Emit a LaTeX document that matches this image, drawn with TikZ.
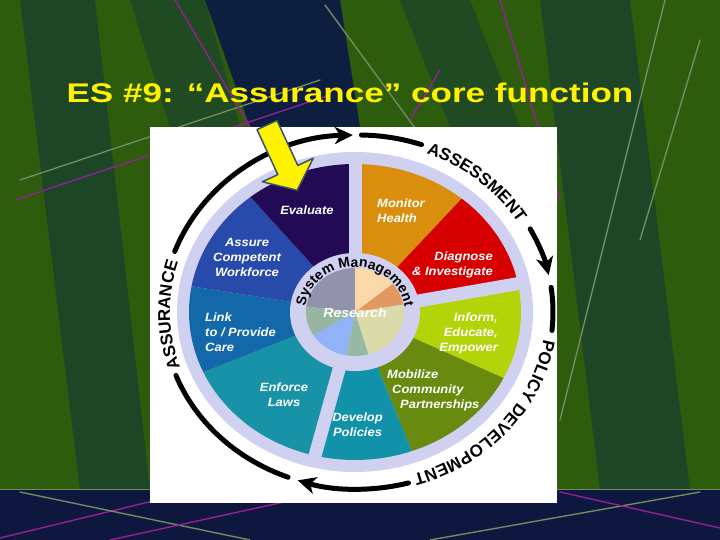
\documentclass[tikz,border=0pt]{standalone}
\usepackage{fontspec}
\setmainfont{Liberation Sans}
\newfontfamily\titlefont[FakeStretch=1.3]{Liberation Sans}
\newfontfamily\wheelfont[FakeStretch=1.08]{Liberation Sans}
\usetikzlibrary{arrows.meta,decorations.text}

\definecolor{bggreen}{RGB}{45,92,12}
\definecolor{bgteal}{RGB}{22,62,50}
\definecolor{bgnavy}{RGB}{10,24,70}
\definecolor{bgline}{RGB}{112,140,96}
\definecolor{bgpurple}{RGB}{150,30,150}
\definecolor{stripnavy}{RGB}{14,24,62}
\definecolor{lav}{RGB}{208,208,240}
\definecolor{cmon}{RGB}{218,142,14}
\definecolor{cdia}{RGB}{214,0,0}
\definecolor{cinf}{RGB}{178,212,8}
\definecolor{cmob}{RGB}{104,138,14}
\definecolor{cdev}{RGB}{18,146,168}
\definecolor{cenf}{RGB}{24,146,166}
\definecolor{clnk}{RGB}{18,104,168}
\definecolor{cass}{RGB}{40,74,170}
\definecolor{ceva}{RGB}{34,10,84}
\definecolor{pgray}{RGB}{146,146,170}
\definecolor{psage}{RGB}{150,182,162}
\definecolor{pblue}{RGB}{146,178,248}
\definecolor{pgreen}{RGB}{152,184,166}
\definecolor{pkhaki}{RGB}{218,218,170}
\definecolor{ptan}{RGB}{226,152,96}
\definecolor{ppeach}{RGB}{250,216,168}
\definecolor{arrowedge}{RGB}{60,80,110}

\newcommand{\ringfont}{\bfseries\fontsize{17}{17}\selectfont}

\begin{document}
\begin{tikzpicture}[
  x=1pt,y=1pt,
  line cap=round,
  line join=round,
  wlabel/.style={
    text=white,
    font=\wheelfont\fontsize{12}{15}\selectfont\bfseries\itshape,
    inner sep=0pt
  },
  ringline/.style={draw=black,line width=5pt},
  ringtip/.style={-{Stealth[length=18pt,width=17pt,inset=5pt]}},
  spoke/.style={draw=lav,line width=13pt,line cap=butt},
  bgstroke/.style={line width=1.4pt}
]
\useasboundingbox (0,0) rectangle (720,540);

% Slide background: green with dark slanted bands and thin lines.
\fill[bggreen] (0,0) rectangle (720,540);
\fill[bgteal,opacity=0.7] (20,540) -- (95,540) -- (150,50) -- (80,50) -- cycle;
\fill[bgteal,opacity=0.6] (130,540) -- (205,540) -- (240,413) -- (170,413) -- cycle;
\fill[bgnavy,opacity=0.9] (205,540) -- (340,540) -- (360,413) -- (250,413) -- cycle;
\fill[bgteal,opacity=0.6] (400,540) -- (470,540) -- (520,413) -- (450,413) -- cycle;
\fill[bgteal,opacity=0.7] (540,540) -- (630,540) -- (690,50) -- (600,50) -- cycle;
\draw[bgstroke,bgline]   (20,360) -- (320,460);
\draw[bgstroke,bgpurple] (15,340) -- (330,445);
\draw[bgstroke,bgpurple] (175,540) -- (250,413);
\draw[bgstroke,bgline]   (325,535) -- (415,412);
\draw[bgstroke,bgpurple] (410,420) -- (440,470);
\draw[bgstroke,bgline]   (665,540) -- (560,120);
\draw[bgstroke,bgpurple] (500,540) -- (560,340);
\draw[bgstroke,bgline]   (700,500) -- (640,300);

% Bottom strip
\fill[stripnavy] (0,0) rectangle (720,50);
\draw[bgline,line width=1pt] (0,50) -- (720,50);
\draw[bgstroke,bgpurple] (0,2) -- (190,48);
\draw[bgstroke,bgline]   (20,48) -- (250,0);
\draw[bgstroke,bgpurple] (110,0) -- (330,48);
\draw[bgstroke,bgline]   (430,0) -- (700,48);
\draw[bgstroke,bgpurple] (560,48) -- (720,12);

% Title
\node[font=\titlefont\bfseries\fontsize{27}{27}\selectfont,text=yellow,
      anchor=base,inner sep=0pt] (title) at (350,437)
  {ES \#9: “Assurance” core function};

% White picture box
\fill[white] (150,37) rectangle (557,413);

% Wheel of the ten essential services
\begin{scope}[shift={(355,228)}]
  \fill[lav] (0,0) ellipse[x radius=178,y radius=160];
  \foreach \s/\e/\c in {50/90/cmon,11/50/cdia,-26.5/11/cinf,-70/-26.5/cmob,
                        -104/-70/cdev,-156/-104/cenf,-190/-156/clnk,
                        -231/-190/cass,-270/-231/ceva}
    \fill[\c] (0,0) -- (\s:166 and 148)
      arc[start angle=\s,end angle=\e,x radius=166,y radius=148] -- cycle;
  \foreach \a in {90,11,-104}
    \draw[spoke] (0,0) -- (\a:172 and 154);
  \fill[lav] (0,0) ellipse[x radius=65,y radius=59];
  \foreach \s/\e/\c in {90/173/pgray,173/212/psage,212/260/pblue,260/286/pgreen,
                        286/370/pkhaki,370/400/ptan,400/450/ppeach}
    \fill[\c] (0,0) -- (\s:49 and 44)
      arc[start angle=\s,end angle=\e,x radius=49,y radius=44] -- cycle;
  \path[decorate,decoration={text along path,text align=center,
        text={|\bfseries\fontsize{14}{14}\selectfont|System Management}}]
    (182:50 and 45) arc[start angle=182,end angle=-2,x radius=50,y radius=45];
\end{scope}

% Service labels
\node[wlabel,font=\wheelfont\fontsize{13}{15}\selectfont\bfseries\itshape]
  (research) at (355,227) {Research};
\node[wlabel] (evaluate) at (307,330) {Evaluate};
\node[wlabel,align=center] (assure) at (247,283) {Assure\\Competent\\Workforce};
\node[wlabel,align=left,anchor=west] (link) at (205,208) {Link\\to / Provide\\Care};
\node[wlabel,align=center] (enforce) at (284,145.5) {Enforce\\Laws};
\node[wlabel,align=center] (develop) at (357.5,115.5) {Develop\\Policies};
\node[wlabel,align=left,anchor=west] (mobilize) at (387,150)
  {Mobilize\\\hspace*{5pt}Community\\\hspace*{13pt}Partnerships};
\node[wlabel,align=right,anchor=east] (inform) at (498,207) {Inform,\\Educate,\\Empower};
\node[wlabel,align=right,anchor=east] (diagnose) at (493,275.5) {Diagnose\\\& Investigate};
\node[wlabel,align=left,anchor=west] (monitor) at (377,329) {Monitor\\Health};

% Outer cycle: assessment, policy development, assurance
\begin{scope}[shift={(358,228)}]
  \draw[ringline,ringtip] (160:195 and 177)
    arc[start angle=160,end angle=91.5,x radius=195,y radius=177];
  \draw[ringline] (89:195 and 177)
    arc[start angle=89,end angle=71,x radius=195,y radius=177];
  \path[decorate,decoration={text along path,text align=center,
        text={|\ringfont|ASSESSMENT}}]
    (73:188 and 170) arc[start angle=73,end angle=27,x radius=188,y radius=170];
  \draw[ringline,ringtip] (28:195 and 177)
    arc[start angle=28,end angle=12,x radius=195,y radius=177];
  \draw[ringline] (8:195 and 177)
    arc[start angle=8,end angle=-6,x radius=195,y radius=177];
  \path[decorate,decoration={text along path,text align=center,
        text={|\ringfont|POLICY DEVELOPMENT}}]
    (-6:188 and 170) arc[start angle=-6,end angle=-76,x radius=188,y radius=170];
  \draw[ringline,ringtip] (-75:195 and 177)
    arc[start angle=-75,end angle=-108,x radius=195,y radius=177];
  \draw[ringline] (-111:195 and 177)
    arc[start angle=-111,end angle=-159,x radius=195,y radius=177];
  \path[decorate,decoration={text along path,text align=center,
        text={|\ringfont|ASSURANCE}}]
    (201:188 and 170) arc[start angle=201,end angle=161,x radius=188,y radius=170];
\end{scope}

% Yellow pointer to the assurance services
\begin{scope}[shift={(267,415)},rotate=-65.2]
  \filldraw[fill=yellow,draw=arrowedge,line width=1.5pt]
    (0,11) -- (49.6,11) -- (49.6,28) -- (72,0) -- (49.6,-28) -- (49.6,-11) -- (0,-11) -- cycle;
\end{scope}

\end{tikzpicture}
\end{document}
